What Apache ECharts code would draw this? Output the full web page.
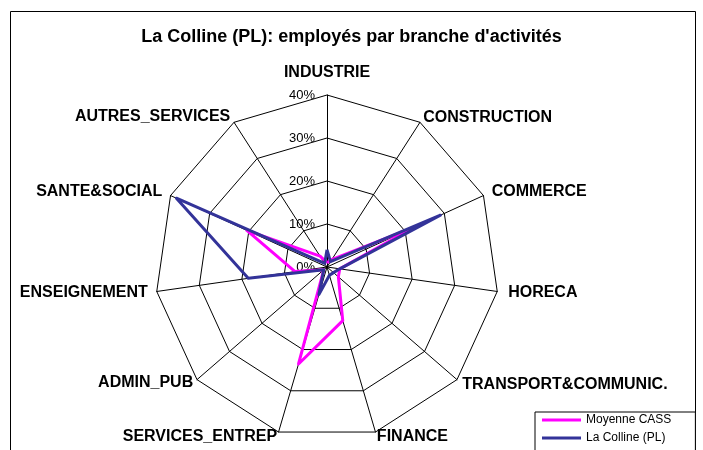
<!DOCTYPE html>
<html><head><meta charset="utf-8">
<script src="https://cdn.jsdelivr.net/npm/echarts@6/dist/echarts.min.js"></script>
<style>html,body{margin:0;padding:0;background:#fff}#c{width:703px;height:450px}</style>
</head><body><div id="c"></div>
<script>
// Categories in visual clockwise order, starting at top
const categories = ['INDUSTRIE','CONSTRUCTION','COMMERCE','HORECA','TRANSPORT&COMMUNIC.','FINANCE','SERVICES_ENTREP','ADMIN_PUB','ENSEIGNEMENT','SANTE&SOCIAL','AUTRES_SERVICES'];
const moyenneCASS = [1, 2, 22.5, 3, 3.5, 13, 23.5, 1, 7.5, 20.5, 3];
const laColline   = [4, 1.5, 29, 3, 2, 2, 6.7, 1, 18.5, 38.5, 1];
const tickLabels = ['0%','10%','20%','30%','40%'];
const axisMax = 40;
const seriesNames = ['Moyenne CASS','La Colline (PL)'];

// styling only
const nameGaps = [14, 6, 9, 11, 7, 5, 5, 5, 9, 9, 7];

const n = categories.length;
const order = categories.map((_, i) => i === 0 ? 0 : n - i);
const indicator = order.map((k, j) => {
  const o = { name: categories[k], min: 0, max: axisMax, nameGap: nameGaps[k] };
  if (j === 0) {
    o.axisLabel = { show: true, formatter: v => tickLabels[Math.round(v / 10)], fontSize: 13, color: '#000', fontFamily: 'Arial', margin: 12 };
  }
  return o;
});
const reorder = arr => order.map(k => arr[k]);

const chart = echarts.init(document.getElementById('c'), null, { renderer: 'canvas' });
chart.setOption({
  animation: false,
  backgroundColor: '#fff',
  title: {
    text: "La Colline (PL): employés par branche d'activités",
    left: 'center', top: 28, padding: 0,
    textStyle: { fontSize: 18, fontWeight: 'bold', fontFamily: 'Arial', color: '#000' }
  },
  graphic: [{
    type: 'rect', silent: true, z: -1,
    shape: { x: 10.5, y: 11.5, width: 685, height: 460 },
    style: { fill: 'none', stroke: '#000', lineWidth: 1 }
  }],
  legend: {
    orient: 'vertical', left: 535, top: 412, height: 60, padding: [2, 24, 30, 7], itemGap: 6,
    itemWidth: 39, itemHeight: 3, icon: 'rect',
    borderColor: '#000', borderWidth: 1, backgroundColor: '#fff',
    textStyle: { fontSize: 12, fontFamily: 'Arial', color: '#000' },
    data: seriesNames
  },
  radar: {
    center: [327, 267], radius: 172, startAngle: 90, shape: 'polygon', splitNumber: 4,
    axisName: { color: '#000', fontSize: 16, fontWeight: 'bold', fontFamily: 'Arial' },
    axisNameGap: 8,
    axisLine: { lineStyle: { color: '#000', width: 1 } },
    splitLine: { lineStyle: { color: '#000', width: 1 } },
    splitArea: { show: false },
    axisTick: { show: false },
    axisLabel: { show: false },
    indicator: indicator
  },
  series: [{
    type: 'radar', symbol: 'none',
    data: [
      { name: seriesNames[0], value: reorder(moyenneCASS), lineStyle: { color: '#FF00FF', width: 3 }, itemStyle: { color: '#FF00FF' } },
      { name: seriesNames[1], value: reorder(laColline), lineStyle: { color: '#333399', width: 3 }, itemStyle: { color: '#333399' } }
    ]
  }]
});
</script></body></html>
